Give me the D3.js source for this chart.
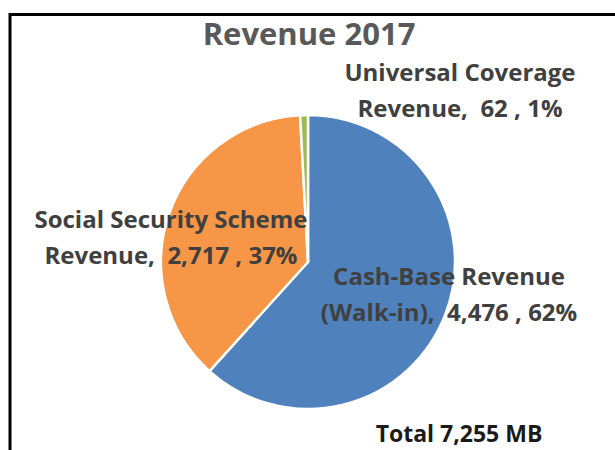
<!DOCTYPE html>
<html>
<head>
<meta charset="utf-8">
<script src="https://cdn.jsdelivr.net/npm/d3@7"></script>
<style>
  html, body { margin: 0; padding: 0; background: #fff; }
  svg text { font-family: "Open Sans", Lato, sans-serif; font-weight: bold; white-space: pre; }
</style>
</head>
<body>
<svg id="chart" width="615" height="450"></svg>
<script>
// Revenue by source, 2017 (MB)
const categories = ["Cash-Base Revenue (Walk-in)", "Social Security Scheme Revenue", "Universal Coverage Revenue"];
const values = [4476, 2717, 62];
const percents = ["62%", "37%", "1%"];
const labelLines = [
  ["Cash-Base Revenue", "(Walk-in),  4,476 , 62%"],
  ["Social Security Scheme", "Revenue,  2,717 , 37%"],
  ["Universal Coverage", "Revenue,  62 , 1%"]
];
const colors = ["#4F81BD", "#F79646", "#9BBB59"];
const title = "Revenue 2017";
const totalLabel = "Total 7,255 MB";

const svg = d3.select("#chart");

// chart frame
svg.append("rect")
  .attr("x", 10).attr("y", 14.5)
  .attr("width", 620).attr("height", 450)
  .attr("fill", "none").attr("stroke", "#000").attr("stroke-width", 3);

const cx = 308, cy = 262, r = 147;

const pie = d3.pie().sort(null).value(d => d)(values);
const arc = d3.arc().innerRadius(0).outerRadius(r);

const g = svg.append("g").attr("transform", `translate(${cx},${cy})`);
g.selectAll("path").data(pie).join("path")
  .attr("d", arc)
  .attr("fill", (d, i) => colors[i])
  .attr("stroke", "#fff")
  .attr("stroke-width", 2.5)
  .attr("stroke-linejoin", "round");

svg.append("text")
  .attr("x", 309).attr("y", 45)
  .attr("text-anchor", "middle")
  .attr("font-size", 31)
  .attr("fill", "#595959")
  .text(title);

// data labels, positioned beside each slice
const labelPos = [
  { x: 449, y: 285 },
  { x: 171, y: 228 },
  { x: 460, y: 81 }
];
labelLines.forEach((lines, i) => {
  const t = svg.append("text")
    .attr("text-anchor", "middle")
    .attr("font-size", 24)
    .attr("fill", "#404040");
  lines.forEach((ln, k) => {
    t.append("tspan")
      .attr("x", labelPos[i].x)
      .attr("y", labelPos[i].y + k * 36)
      .text(ln);
  });
});

svg.append("text")
  .attr("x", 459).attr("y", 442)
  .attr("text-anchor", "middle")
  .attr("font-size", 23)
  .attr("fill", "#1a1a1a")
  .text(totalLabel);
</script>
</body>
</html>
